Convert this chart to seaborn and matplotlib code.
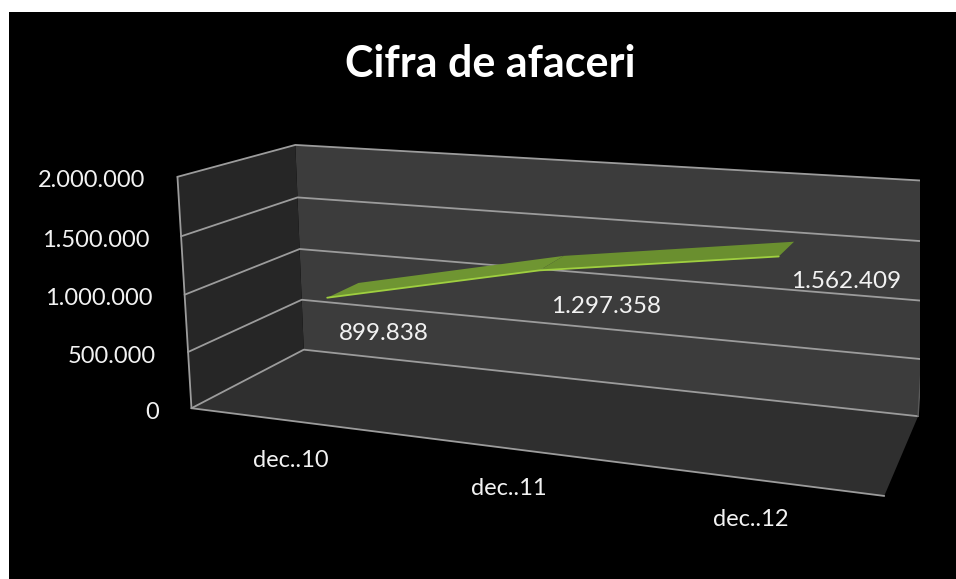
import numpy as np
import matplotlib
matplotlib.use("Agg")
import matplotlib.pyplot as plt
import seaborn as sns
from matplotlib import transforms as mtransforms
from matplotlib.patches import Rectangle
from mpl_toolkits.mplot3d.art3d import Poly3DCollection

# ---------------- data ----------------
title = "Cifra de afaceri"
categories = ["dec..10", "dec..11", "dec..12"]
values = [899838, 1297358, 1562409]
value_labels = ["899.838", "1.297.358", "1.562.409"]
y_ticks = [0, 500000, 1000000, 1500000, 2000000]
y_tick_labels = ["0", "500.000", "1.000.000", "1.500.000", "2.000.000"]

# ---------------- style ----------------
sns.set_theme(style="dark")
plt.rcParams["font.family"] = ["Lato", "DejaVu Sans"]
ribbon_colors = sns.color_palette(["#6f9532", "#6a8f2f"])
edge_green = "#9fcf40"
grid_color = "#9c9c9c"
text_color = "#f2f2f2"
label_nudge = [0, 0, 11]   # vertical nudge (px) of the value labels, layout only

W_PX, H_PX = 956, 579
fig = plt.figure(figsize=(W_PX / 100, H_PX / 100), dpi=100, facecolor="white")
fig.add_artist(Rectangle((9 / W_PX, 0), 1, 1 - 12 / H_PX, transform=fig.transFigure,
                         facecolor="black", edgecolor="none", zorder=-10))

ax = fig.add_axes([0.2, 0.0, 0.6, 0.6 * W_PX / H_PX], projection="3d",
                  computed_zorder=False)
ax.set_facecolor((0, 0, 0, 0))
ax.set_axis_off()

n = len(categories)
x_pos = np.arange(n) + 0.5
zmax = y_ticks[-1]
y_front, y_back = 0.35, 0.65

# walls
walls = [
    ([[0, 1, 0], [n, 1, 0], [n, 1, zmax], [0, 1, zmax]], "#3c3c3c"),
    ([[0, 0, 0], [0, 1, 0], [0, 1, zmax], [0, 0, zmax]], "#262626"),
    ([[0, 0, 0], [n, 0, 0], [n, 1, 0], [0, 1, 0]], "#2f2f2f"),
]
for verts, c in walls:
    pc = Poly3DCollection([verts], facecolors=c, edgecolors="none", zorder=1)
    ax.add_collection3d(pc)

# gridlines on left & back wall
for t in y_ticks:
    ax.plot([0, 0, n], [0, 1, 1], [t, t, t], color=grid_color, lw=1.3, zorder=2)
ax.plot([0, 0], [0, 0], [0, zmax], color=grid_color, lw=1.3, zorder=2)
ax.plot([n, n], [1, 1], [0, zmax], color="#5a5a5a", lw=1.0, zorder=2)
ax.plot([0, n], [0, 0], [0, 0], color=grid_color, lw=1.3, zorder=2)

# ribbon
for i in range(n - 1):
    quad = [[x_pos[i], y_front, values[i]], [x_pos[i], y_back, values[i]],
            [x_pos[i + 1], y_back, values[i + 1]], [x_pos[i + 1], y_front, values[i + 1]]]
    pc = Poly3DCollection([quad], facecolors=ribbon_colors[i], edgecolors="none", zorder=3)
    ax.add_collection3d(pc)
ax.plot(x_pos, [y_front] * n, values, color=edge_green, lw=1.3, zorder=4)

ax.set_xlim(0, n)
ax.set_ylim(0, 1)
ax.set_zlim(0, zmax)

# ---------------- fit the camera to the reference box layout ----------------
ref_pts3d = np.array([[0, 1, 0], [n, 1, 0], [0, 1, zmax], [n, 1, zmax],
                      [0, 0, 0], [0, 0, zmax], [n, 0, 0]], float)
ref_px = np.array([[304, 350], [918, 416], [295, 145], [933, 181],
                   [192, 408], [177, 177], [884, 496]], float)


def project(M, pts):
    h = np.column_stack([pts, np.ones(len(pts))]) @ M.T
    return h[:, :2] / h[:, 3:4]


def set_params(p):
    elev, azim, lf, lax, lay = p
    ax.view_init(elev=elev, azim=azim)
    ax.set_box_aspect((np.exp(lax), np.exp(lay), 1.0))
    ax.set_proj_type("persp", focal_length=float(np.exp(lf)))
    return ax.get_proj()


def fit(p):
    M = set_params(p)
    uv = project(M, ref_pts3d) * np.array([1.0, -1.0])
    um, tm = uv.mean(0), ref_px.mean(0)
    du, dt = uv - um, ref_px - tm
    s = (du * dt).sum() / (du * du).sum()
    a = tm - s * um
    res = ((a + s * uv - ref_px) ** 2).sum()
    if s <= 0:
        res += 1e9
    return res, s, a


def nelder_mead(f, x0, step, iters=700):
    k = len(x0)
    pts = [np.array(x0, float)]
    for i in range(k):
        q = np.array(x0, float)
        q[i] += step[i]
        pts.append(q)
    vals = [f(q) for q in pts]
    for _ in range(iters):
        order = np.argsort(vals)
        pts = [pts[i] for i in order]
        vals = [vals[i] for i in order]
        c = np.mean(pts[:-1], axis=0)
        xr = c + (c - pts[-1])
        fr = f(xr)
        if fr < vals[0]:
            xe = c + 2 * (c - pts[-1])
            fe = f(xe)
            if fe < fr:
                pts[-1], vals[-1] = xe, fe
            else:
                pts[-1], vals[-1] = xr, fr
        elif fr < vals[-2]:
            pts[-1], vals[-1] = xr, fr
        else:
            xc = c + 0.5 * (pts[-1] - c)
            fc = f(xc)
            if fc < vals[-1]:
                pts[-1], vals[-1] = xc, fc
            else:
                for j in range(1, len(pts)):
                    pts[j] = pts[0] + 0.5 * (pts[j] - pts[0])
                    vals[j] = f(pts[j])
    best = int(np.argmin(vals))
    return pts[best]


p0 = np.array([15.0, -68.0, np.log(0.4), np.log(3.07), np.log(1.1)])
try:
    pbest = nelder_mead(lambda q: fit(q)[0], p0, [3.0, 4.0, 0.3, 0.2, 0.2])
except Exception:
    pbest = p0
_, s, a = fit(pbest)
M = set_params(pbest)

vx0, vx1 = ax.viewLim.intervalx
vy0, vy1 = ax.viewLim.intervaly
w_px = s * (vx1 - vx0)
h_px = s * (vy1 - vy0)
left = a[0] + s * vx0
bottom = H_PX + s * vy0 - a[1]
ax.set_position([left / W_PX, bottom / H_PX, w_px / W_PX, h_px / H_PX])


def anchor(pt):
    return project(M, np.array([pt], float))[0]


def off(dx, dy):
    return mtransforms.offset_copy(ax.transData, fig=fig, x=dx, y=dy, units="dots")


# y tick labels
for t, lab in zip(y_ticks, y_tick_labels):
    px, py = anchor([0, 0, t])
    ax.text2D(px, py, lab, transform=off(-32, -4), ha="right", va="center",
              fontsize=17, color=text_color)

# category labels
for xp, lab in zip(x_pos, categories):
    px, py = anchor([xp, 0, 0])
    ax.text2D(px, py, lab, transform=off(-1, -40), ha="center", va="center",
              fontsize=17, color=text_color)

# data labels
for xp, v, lab, nud in zip(x_pos, values, value_labels, label_nudge):
    px, py = anchor([xp, y_front, v])
    ax.text2D(px, py, lab, transform=off(12, -36 + nud), ha="left", va="center",
              fontsize=17.5, color=text_color)

fig.text(490 / W_PX, 1 - 77 / H_PX, title, ha="center", va="baseline",
         fontsize=31, fontweight="bold", color="white")

fig.savefig("out.png", dpi=100, facecolor=fig.get_facecolor())
